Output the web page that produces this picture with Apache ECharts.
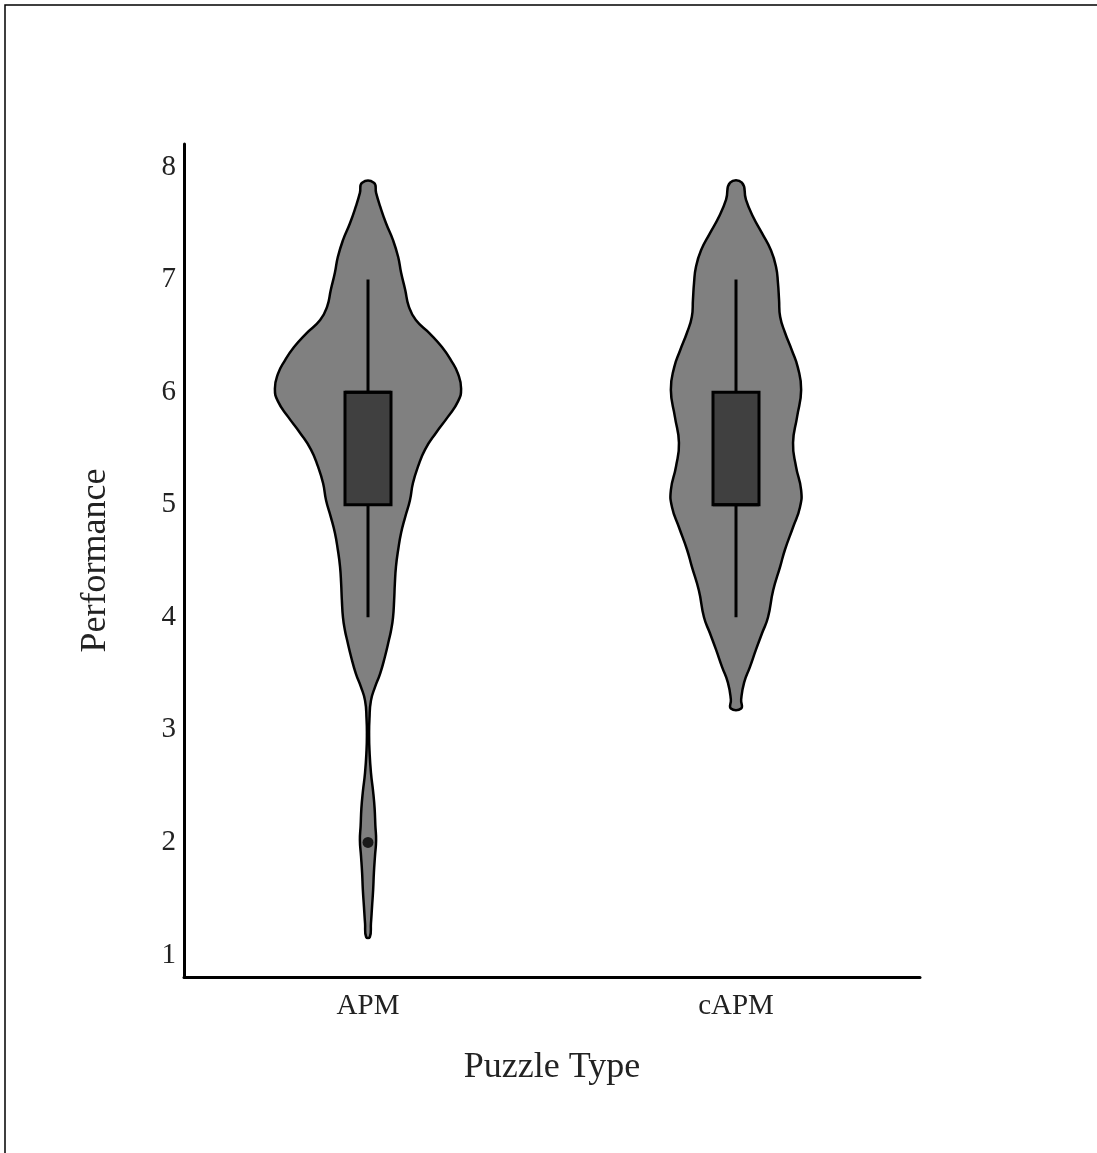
<!DOCTYPE html>
<html>
<head>
<meta charset="utf-8">
<script src="https://cdn.jsdelivr.net/npm/echarts@6/dist/echarts.min.js"></script>
<style>html,body{margin:0;padding:0;background:#fff;}#chart{width:1097px;height:1153px;}</style>
</head>
<body>
<div id="chart"></div>
<script>
// ---- data ----
const categories = ['APM', 'cAPM'];
const yTicks = [1, 2, 3, 4, 5, 6, 7, 8];

// violin outline: performance value and half-width (fraction of category band)
const apmDensityY = [7.86, 7.77, 7.65, 7.50, 7.35, 7.20, 7.06, 6.91, 6.76, 6.64, 6.52, 6.40, 6.28, 6.16, 6.03, 5.92, 5.78, 5.64, 5.49, 5.34, 5.19, 5.04, 4.89, 4.75, 4.60, 4.45, 4.30, 4.15, 4.00, 3.89, 3.80, 3.65, 3.50, 3.38, 3.26, 3.10, 2.95, 2.82, 2.62, 2.45, 2.30, 2.15, 2.02, 1.88, 1.73, 1.58, 1.43, 1.28, 1.16];
const apmDensityW = [0.016, 0.022, 0.033, 0.049, 0.068, 0.082, 0.090, 0.101, 0.111, 0.130, 0.168, 0.201, 0.226, 0.245, 0.253, 0.245, 0.217, 0.185, 0.155, 0.136, 0.122, 0.114, 0.101, 0.090, 0.082, 0.076, 0.073, 0.071, 0.068, 0.063, 0.057, 0.046, 0.033, 0.019, 0.008, 0.004, 0.003, 0.004, 0.008, 0.014, 0.018, 0.020, 0.022, 0.019, 0.016, 0.014, 0.011, 0.008, 0.005];
const capmDensityY = [7.86, 7.71, 7.56, 7.41, 7.26, 7.11, 6.97, 6.82, 6.67, 6.53, 6.37, 6.22, 6.02, 5.78, 5.55, 5.34, 5.13, 4.98, 4.80, 4.60, 4.45, 4.24, 4.00, 3.86, 3.71, 3.56, 3.42, 3.27, 3.19];
const capmDensityW = [0.016, 0.027, 0.046, 0.071, 0.095, 0.109, 0.114, 0.117, 0.120, 0.133, 0.152, 0.168, 0.177, 0.166, 0.155, 0.163, 0.177, 0.174, 0.155, 0.133, 0.120, 0.101, 0.087, 0.071, 0.054, 0.038, 0.022, 0.014, 0.014];

// box stats: [whiskerLow, Q1, median, Q3, whiskerHigh]
const apmBox = [4, 5, 6, 6, 7];
const capmBox = [4, 5, 5, 6, 7];
const apmOutliers = [2];
const capmOutliers = [];

// ---- build ----
const densityY = [apmDensityY, capmDensityY];
const densityW = [apmDensityW, capmDensityW];
const boxes = [apmBox, capmBox];
const outliers = [apmOutliers, capmOutliers];

const FONT = "'Liberation Serif', 'Times New Roman', serif";
const BOX_FRAC = 0.125;

function violinItem(params, api) {
  const idx = api.value(0);
  const ys = densityY[idx], ws = densityW[idx];
  const band = api.size([1, 0])[0];
  const right = [], left = [];
  for (let i = 0; i < ys.length; i++) {
    const c = api.coord([idx, ys[i]]);
    right.push([c[0] + ws[i] * band, c[1]]);
    left.push([c[0] - ws[i] * band, c[1]]);
  }
  const pts = right.concat(left.reverse());
  return {
    type: 'polygon',
    shape: { points: pts, smooth: 0.5 },
    style: { fill: '#808080', stroke: '#000', lineWidth: 2.5 }
  };
}

function boxItem(params, api) {
  const idx = api.value(0);
  const b = boxes[idx];
  const band = api.size([1, 0])[0];
  const half = band * BOX_FRAC / 2;
  const lo = api.coord([idx, b[0]]);
  const q1 = api.coord([idx, b[1]]);
  const med = api.coord([idx, b[2]]);
  const q3 = api.coord([idx, b[3]]);
  const hi = api.coord([idx, b[4]]);
  const cx = lo[0];
  return {
    type: 'group',
    children: [
      { type: 'line', shape: { x1: cx, y1: hi[1], x2: cx, y2: lo[1] }, style: { stroke: '#000', lineWidth: 3 } },
      { type: 'rect', shape: { x: cx - half, y: q3[1], width: half * 2, height: q1[1] - q3[1] }, style: { fill: '#404040', stroke: '#000', lineWidth: 3 } },
      { type: 'line', shape: { x1: cx - half, y1: med[1], x2: cx + half, y2: med[1] }, style: { stroke: '#000', lineWidth: 3 } }
    ]
  };
}

const outlierData = [];
outliers.forEach((arr, i) => arr.forEach(v => outlierData.push([categories[i], v])));

const chart = echarts.init(document.getElementById('chart'), null, { renderer: 'canvas' });
chart.setOption({
  backgroundColor: '#fff',
  animation: false,
  graphic: [{
    type: 'rect',
    shape: { x: 5, y: 5, width: 2000, height: 2000 },
    style: { fill: 'none', stroke: '#000', lineWidth: 1.5 },
    silent: true
  }],
  grid: { left: 184, right: 177, top: 144, bottom: 176, containLabel: false },
  xAxis: {
    type: 'category',
    data: categories,
    boundaryGap: true,
    axisLine: { show: true, lineStyle: { color: '#000', width: 3 } },
    axisTick: { show: false },
    splitLine: { show: false },
    axisLabel: { fontFamily: FONT, fontSize: 29, color: '#222', margin: 15 },
    name: 'Puzzle Type',
    nameLocation: 'middle',
    nameGap: 73,
    nameTextStyle: { fontFamily: FONT, fontSize: 36, color: '#222' }
  },
  yAxis: {
    type: 'value',
    min: 0.805,
    max: 8.204,
    axisLine: { show: true, lineStyle: { color: '#000', width: 3 } },
    axisTick: { show: false },
    splitLine: { show: false },
    axisLabel: { fontFamily: FONT, fontSize: 29, color: '#222', margin: 8, customValues: yTicks, formatter: v => String(v) },
    name: 'Performance',
    nameLocation: 'middle',
    nameGap: 70,
    nameTextStyle: { fontFamily: FONT, fontSize: 36, color: '#222' }
  },
  series: [
    {
      type: 'custom',
      renderItem: violinItem,
      data: categories.map((c, i) => [i, boxes[i][2]]),
      encode: { x: 0, y: 1 },
      z: 2
    },
    {
      type: 'custom',
      renderItem: boxItem,
      data: categories.map((c, i) => [i, boxes[i][2]]),
      encode: { x: 0, y: 1 },
      z: 3
    },
    {
      type: 'scatter',
      data: outlierData,
      symbol: 'circle',
      symbolSize: 11,
      itemStyle: { color: '#000' },
      z: 4
    }
  ]
});
</script>
</body>
</html>
